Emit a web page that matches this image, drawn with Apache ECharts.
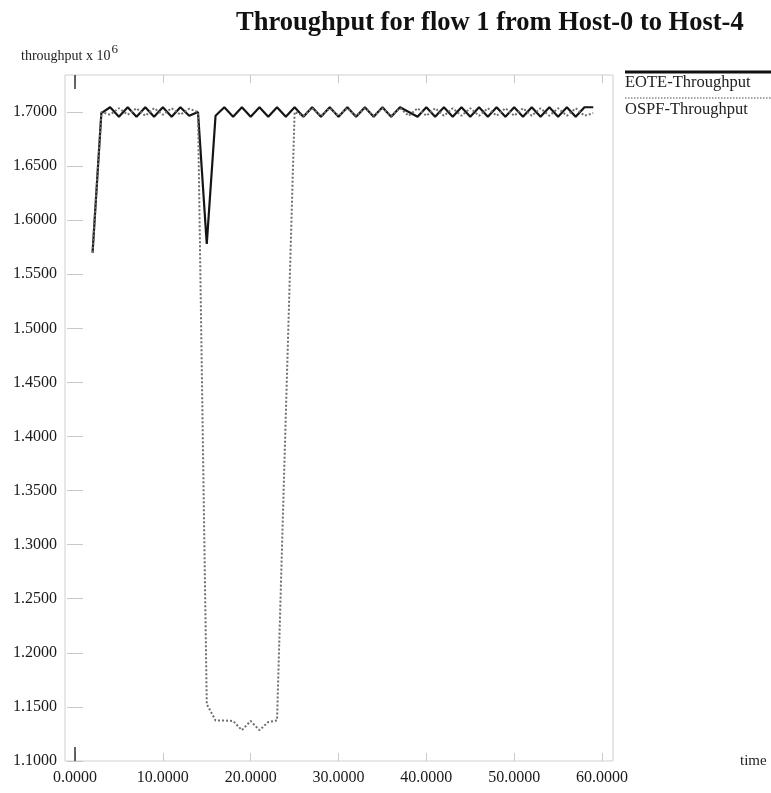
<!DOCTYPE html>
<html>
<head>
<meta charset="utf-8">
<script src="https://cdn.jsdelivr.net/npm/echarts@6/dist/echarts.min.js"></script>
<style>
html,body{margin:0;padding:0;background:#fff;}
#chart{width:771px;height:793px;}
</style>
</head>
<body>
<div id="chart"></div>
<script>
// ---- data ----
var titleText = 'Throughput for flow 1 from Host-0 to Host-4';
var seriesNames = ['EOTE-Throughput', 'OSPF-Throughput'];
var xTickValues = [0, 10, 20, 30, 40, 50, 60];
var yTickValues = [1.10, 1.15, 1.20, 1.25, 1.30, 1.35, 1.40, 1.45, 1.50, 1.55, 1.60, 1.65, 1.70];

var times = [2,3,4,5,6,7,8,9,10,11,12,13,14,15,16,17,18,19,20,21,22,23,24,25,26,27,28,29,30,
             31,32,33,34,35,36,37,38,39,40,41,42,43,44,45,46,47,48,49,50,51,52,53,54,55,56,57,58,59];

var eoteValues = [1.5700,1.6990,1.7044,1.6956,1.7044,1.6956,1.7044,1.6956,1.7044,1.6956,1.7044,1.6965,1.7000,1.5780,
                  1.6965,1.7044,1.6956,1.7044,1.6956,1.7044,1.6956,1.7044,1.6956,1.7044,1.6956,1.7044,1.6956,1.7044,1.6956,
                  1.7044,1.6956,1.7044,1.6956,1.7044,1.6956,1.7044,1.7000,1.6956,1.7044,1.6956,1.7044,1.6956,1.7044,1.6956,
                  1.7044,1.6956,1.7044,1.6956,1.7044,1.6956,1.7044,1.6956,1.7044,1.6956,1.7044,1.6956,1.7044,1.7044];

var ospfValues = [1.5700,1.7000,1.6975,1.7035,1.6975,1.7035,1.6965,1.7035,1.6975,1.7035,1.6975,1.7030,1.7000,1.1525,
                  1.1375,1.1375,1.1370,1.1285,1.1370,1.1285,1.1360,1.1375,1.4200,1.7000,1.6965,1.7035,1.6965,1.7035,1.6965,
                  1.7035,1.6965,1.7035,1.6965,1.7035,1.6965,1.7035,1.6965,1.7035,1.6965,1.7035,1.6965,1.7035,1.6965,1.7035,
                  1.6965,1.7035,1.6965,1.7035,1.6965,1.7035,1.6965,1.7035,1.6965,1.7035,1.6965,1.7035,1.6965,1.6990];

function pairs(xs, ys){ return xs.map(function(x,i){ return [x, ys[i]]; }); }

var serif = 'Liberation Serif, DejaVu Serif, serif';
var X_MIN = -1.14, X_MAX = 61.25, Y_MIN = 1.1, Y_MAX = 1.7342;
var lightTick = {show:true, inside:true, length:8, lineStyle:{color:'#c8c8c8', width:1}};

var chart = echarts.init(document.getElementById('chart'), null, {renderer:'canvas'});
chart.setOption({
  animation:false,
  backgroundColor:'#fff',
  title:{text:titleText, left:231, top:5,
    textStyle:{fontFamily:serif, fontWeight:'bold', fontSize:26.5, color:'#111'}},
  grid:{left:65, right:158, top:75, bottom:32, show:true, borderColor:'#cfcfcf', borderWidth:1, containLabel:false},
  xAxis:[
    {type:'value', position:'bottom', min:X_MIN, max:X_MAX,
     name:'time', nameLocation:'end', nameGap:127,
     nameTextStyle:{fontFamily:serif, fontSize:15, color:'#222', verticalAlign:'middle'},
     axisLine:{show:false}, splitLine:{show:false},
     axisTick:Object.assign({customValues:xTickValues}, lightTick),
     axisLabel:{customValues:xTickValues, margin:9, fontFamily:serif, fontSize:16, color:'#1a1a1a',
       formatter:function(v){return v.toFixed(4);}}},
    {type:'value', position:'top', min:X_MIN, max:X_MAX,
     axisLine:{show:false}, splitLine:{show:false}, axisLabel:{show:false},
     axisTick:Object.assign({customValues:xTickValues}, lightTick)},
    {type:'value', position:'bottom', min:X_MIN, max:X_MAX,
     axisLine:{show:false}, splitLine:{show:false}, axisLabel:{show:false},
     axisTick:{show:true, inside:true, length:14, customValues:[0], lineStyle:{color:'#333', width:1.5}}},
    {type:'value', position:'top', min:X_MIN, max:X_MAX,
     axisLine:{show:false}, splitLine:{show:false}, axisLabel:{show:false},
     axisTick:{show:true, inside:true, length:14, customValues:[0], lineStyle:{color:'#333', width:1.5}}}
  ],
  yAxis:[
    {type:'value', position:'left', min:Y_MIN, max:Y_MAX,
     axisLine:{show:false}, splitLine:{show:false},
     axisTick:Object.assign({customValues:yTickValues}, lightTick),
     axisLabel:{customValues:yTickValues, margin:8, fontFamily:serif, fontSize:16, color:'#1a1a1a',
       formatter:function(v){return v.toFixed(4);}}},
    {type:'value', position:'right', min:Y_MIN, max:Y_MAX,
     axisLine:{show:false}, splitLine:{show:false}, axisLabel:{show:false},
     axisTick:Object.assign({customValues:yTickValues}, lightTick)}
  ],
  series:[
    {name:seriesNames[0], type:'line', xAxisIndex:0, yAxisIndex:0, showSymbol:false,
     data:pairs(times, eoteValues),
     lineStyle:{color:'#151515', width:2.2, type:'solid'}},
    {name:seriesNames[1], type:'line', xAxisIndex:0, yAxisIndex:0, showSymbol:false,
     data:pairs(times, ospfValues),
     lineStyle:{color:'#6e6e6e', width:2, type:'dotted'}}
  ],
  graphic:[
    {type:'text', left:21, top:43,
     style:{text:'{a|throughput x 10}{s|6}', rich:{
       a:{fontFamily:serif, fontSize:14, fill:'#222', verticalAlign:'bottom', padding:[6,0,0,0]},
       s:{fontFamily:serif, fontSize:13, fill:'#222', verticalAlign:'top', padding:[0,0,6,1]}}}},
    {type:'line', shape:{x1:625, y1:72, x2:771, y2:72}, style:{stroke:'#111', lineWidth:3}},
    {type:'text', left:625, top:74, style:{text:seriesNames[0], fontFamily:serif, fontSize:16.5, fill:'#222'}},
    {type:'line', shape:{x1:625, y1:98, x2:771, y2:98}, style:{stroke:'#888', lineWidth:1.5, lineDash:[1.5,1.5]}},
    {type:'text', left:625, top:101, style:{text:seriesNames[1], fontFamily:serif, fontSize:16.5, fill:'#222'}}
  ]
});
</script>
</body>
</html>
